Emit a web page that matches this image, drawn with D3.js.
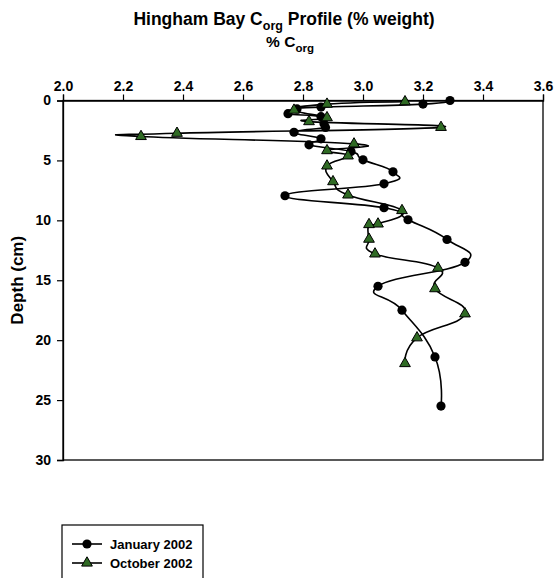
<!DOCTYPE html>
<html><head><meta charset="utf-8">
<script src="https://cdn.jsdelivr.net/npm/d3@7"></script>
<style>
body{margin:0;background:#fff;}
text{font-family:"Liberation Sans",Arial,sans-serif;font-weight:bold;fill:#000;}
</style></head>
<body>
<svg id="chart" width="558" height="578"></svg>
<script>
const xTicks = [2.0, 2.2, 2.4, 2.6, 2.8, 3.0, 3.2, 3.4, 3.6];
const yTicks = [0, 5, 10, 15, 20, 25, 30];
const seriesNames = ["January 2002", "October 2002"];

const janDepth = [0.0, 0.3, 0.55, 0.7, 1.1, 1.35, 1.95, 2.25, 2.65, 3.2, 3.7, 4.25, 4.95, 5.95, 6.95, 7.95, 8.95, 9.95, 11.6, 13.5, 15.5, 17.5, 21.4, 25.5];
const janCorg  = [3.29, 3.20, 2.86, 2.78, 2.75, 2.86, 2.87, 2.875, 2.77, 2.86, 2.82, 2.96, 3.00, 3.10, 3.07, 2.74, 3.07, 3.15, 3.28, 3.34, 3.05, 3.13, 3.24, 3.26];

const octDepth = [0.1, 0.3, 0.8, 1.43, 1.76, 2.24, 2.73, 3.0, 3.62, 4.18, 4.62, 5.46, 6.77, 7.88, 9.18, 10.3, 10.35, 11.57, 12.8, 13.98, 15.7, 17.8, 19.8, 21.95];
const octCorg  = [3.14, 2.88, 2.77, 2.88, 2.82, 3.26, 2.38, 2.26, 2.97, 2.88, 2.95, 2.88, 2.90, 2.95, 3.13, 3.05, 3.02, 3.02, 3.04, 3.25, 3.24, 3.34, 3.18, 3.14];

const svg = d3.select("#chart");
const L = 63, R = 543, T = 100.5, B = 460;
const x = d3.scaleLinear().domain([2.0, 3.6]).range([L, R]);
const y = d3.scaleLinear().domain([0, 30]).range([T, B]);

// frame
svg.append("rect").attr("x", L).attr("y", T).attr("width", R - L).attr("height", B - T)
  .attr("fill", "none").attr("stroke", "#000").attr("stroke-width", 1.3);

// top axis
const xAxis = svg.append("g").attr("transform", `translate(0,${T})`)
  .call(d3.axisTop(x).tickValues(xTicks).tickFormat(d3.format(".1f")).tickSize(6).tickPadding(4));
xAxis.select(".domain").attr("stroke-width", 1.3);
xAxis.selectAll("line").attr("stroke-width", 1.2);
xAxis.selectAll("text").style("font-size", "14px").style("font-family", "Liberation Sans, Arial, sans-serif").style("font-weight", "bold");

// left axis
const yAxis = svg.append("g").attr("transform", `translate(${L},0)`)
  .call(d3.axisLeft(y).tickValues(yTicks).tickSize(6).tickPadding(6));
yAxis.select(".domain").attr("stroke-width", 1.3);
yAxis.selectAll("line").attr("stroke-width", 1.2);
yAxis.selectAll("text").style("font-size", "14px").style("font-family", "Liberation Sans, Arial, sans-serif").style("font-weight", "bold");

// titles
const t1 = svg.append("text").attr("x", 284).attr("y", 25).attr("text-anchor", "middle").style("font-size", "17.5px");
t1.append("tspan").text("Hingham Bay C");
t1.append("tspan").attr("dy", 5).style("font-size", "12.5px").text("org");
t1.append("tspan").attr("dy", -5).text(" Profile (% weight)");

const t2 = svg.append("text").attr("x", 290).attr("y", 47).attr("text-anchor", "middle").style("font-size", "15.5px");
t2.append("tspan").text("% C");
t2.append("tspan").attr("dy", 5).style("font-size", "11.5px").text("org");

svg.append("text").attr("transform", `translate(23,${(T + B) / 2}) rotate(-90)`)
  .attr("text-anchor", "middle").style("font-size", "17px").text("Depth (cm)");

// series
const line = d3.line().curve(d3.curveCardinal.tension(-0.4));
const jan = janDepth.map((d, i) => [x(janCorg[i]), y(d)]);
const oct = octDepth.map((d, i) => [x(octCorg[i]), y(d)]);

svg.append("path").attr("d", line(jan)).attr("fill", "none").attr("stroke", "#000").attr("stroke-width", 1.6);
svg.selectAll(".jan").data(jan).enter().append("circle")
  .attr("cx", d => d[0]).attr("cy", d => d[1]).attr("r", 4.6).attr("fill", "#000");

svg.append("path").attr("d", line(oct)).attr("fill", "none").attr("stroke", "#000").attr("stroke-width", 1.6);
const tri = d3.symbol().type(d3.symbolTriangle).size(50);
svg.selectAll(".oct").data(oct).enter().append("path")
  .attr("d", tri).attr("transform", d => `translate(${d[0]},${d[1]})`)
  .attr("fill", "#2f6a24").attr("stroke", "#000").attr("stroke-width", 1);

// legend
const lg = svg.append("g");
lg.append("rect").attr("x", 62).attr("y", 525).attr("width", 141).attr("height", 60)
  .attr("fill", "#fff").attr("stroke", "#000").attr("stroke-width", 1.2);
seriesNames.forEach((name, i) => {
  const yy = 544 + i * 19;
  lg.append("line").attr("x1", 72).attr("x2", 102).attr("y1", yy).attr("y2", yy).attr("stroke", "#000").attr("stroke-width", 1.6);
  if (i === 0) {
    lg.append("circle").attr("cx", 87).attr("cy", yy).attr("r", 4.6).attr("fill", "#000");
  } else {
    lg.append("path").attr("d", tri).attr("transform", `translate(87,${yy})`)
      .attr("fill", "#2f6a24").attr("stroke", "#000").attr("stroke-width", 1);
  }
  lg.append("text").attr("x", 110).attr("y", yy + 4.5).style("font-size", "13px").text(name);
});
</script>
</body></html>
